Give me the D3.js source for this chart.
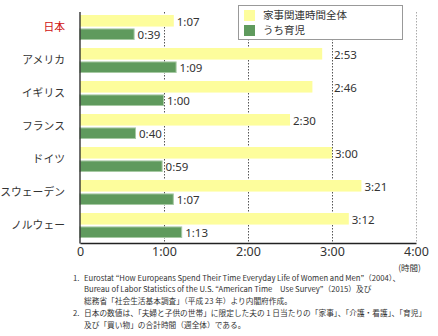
<!DOCTYPE html>
<html><head><meta charset="utf-8">
<script src="https://cdn.jsdelivr.net/npm/d3@7"></script>
<style>
html,body{margin:0;padding:0;background:#fff;}
svg{display:block;font-family:"Noto Sans","Noto Sans CJK JP",sans-serif;}
</style></head>
<body>
<svg id="c" width="438" height="336"></svg>
<script>
const countries = ["日本","アメリカ","イギリス","フランス","ドイツ","スウェーデン","ノルウェー"];
const totalMinutes = [67,173,166,150,180,201,192];
const childMinutes = [39,69,60,40,59,67,73];
const seriesNames = ["家事関連時間全体","うち育児"];
const tickValues = [0,60,120,180,240];
const tickLabels = ["0","1:00","2:00","3:00","4:00"];
const unitLabel = "(時間)";
const notes = [
  ["1.", "Eurostat \u201CHow Europeans Spend Their Time Everyday Life of Women and Men\u201D（2004）、"],
  ["",   "Bureau of Labor Statistics of the U.S. \u201CAmerican Time　Use Survey\u201D（2015）及び"],
  ["",   "総務省「社会生活基本調査」（平成 23 年）より内閣府作成。"],
  ["2.", "日本の数値は、「夫婦と子供の世帯」に限定した夫の 1 日当たりの「家事」、「介護・看護」、「育児」"],
  ["",   "及び「買い物」の合計時間（週全体）である。"]
];

const fmt = m => Math.floor(m/60) + ":" + String(m%60).padStart(2,"0");
const svg = d3.select("#c");
const x = d3.scaleLinear().domain([0,240]).range([80,416]);
const y = d3.scaleBand().domain(countries).range([12,243]).padding(0);
const ys = d3.scaleBand().domain(["total","child"]).range([3,28]).paddingInner(0.14);
const colors = {total:"#fdfd9c", child:"#5f9a5d"};

// gridlines
svg.append("g").selectAll("line").data(tickValues.slice(1)).join("line")
  .attr("x1",d=>x(d)+0.5).attr("x2",d=>x(d)+0.5)
  .attr("y1",12).attr("y2",243)
  .attr("stroke",(d,i)=> d===240 ? "#aaa" : "#555")
  .attr("stroke-width",1).attr("stroke-dasharray","1.5,1.5");

const rows = countries.map((c,i)=>({c, total:totalMinutes[i], child:childMinutes[i]}));
const g = svg.append("g").selectAll("g").data(rows).join("g")
  .attr("transform",d=>`translate(0,${y(d.c)})`);

g.append("rect").attr("x",x(0)).attr("y",ys("total"))
  .attr("width",d=>x(d.total)-x(0)).attr("height",ys.bandwidth()).attr("fill",colors.total);
g.append("rect").attr("x",x(0)).attr("y",ys("child")+0.5)
  .attr("width",d=>x(d.child)-x(0)-0.5).attr("height",ys.bandwidth()-1)
  .attr("fill",colors.child).attr("stroke","#a6c9a3").attr("stroke-width",1);

// country labels
g.append("text").attr("x",65).attr("y",y.bandwidth()/2-1).attr("dy","0.35em")
  .attr("text-anchor","end").attr("font-size",10.8)
  .attr("font-family","'Noto Sans CJK JP',sans-serif")
  .attr("fill",(d,i)=> i===0 ? "#d01010" : "#333").text(d=>d.c);

// value labels
function placeLabel(sel, key){
  sel.each(function(d){
    const t = d3.select(this);
    let px = x(d[key]) + 3;
    const w = this.getComputedTextLength();
    for (const tv of tickValues.slice(1)) {
      const gx = x(tv);
      if (px < gx - 2 && px + w > gx) px = gx + 2;
    }
    t.attr("x", px);
  });
}
g.append("text").attr("y",ys("total")+ys.bandwidth()/2+1).attr("dy","0.35em")
  .attr("font-size",11.5).attr("fill","#333").text(d=>fmt(d.total)).call(placeLabel,"total");
g.append("text").attr("y",ys("child")+ys.bandwidth()/2+1).attr("dy","0.35em")
  .attr("font-size",11.5).attr("fill","#333").text(d=>fmt(d.child)).call(placeLabel,"child");

// axes
const xAxis = d3.axisBottom(x).tickValues(tickValues).tickFormat((d,i)=>tickLabels[i]).tickSize(0).tickPadding(4);
const ax = svg.append("g").attr("transform","translate(0,243)").call(xAxis);
ax.select(".domain").attr("stroke","#222").attr("stroke-width",1.3);
ax.selectAll("text").attr("font-size",12.5).attr("fill","#333").attr("font-family","'Noto Sans',sans-serif");
svg.append("line").attr("x1",80).attr("x2",80).attr("y1",12).attr("y2",243.5)
  .attr("stroke","#222").attr("stroke-width",1.3);

svg.append("text").attr("x",421).attr("y",268).attr("dy","0.35em").attr("text-anchor","end")
  .attr("font-size",8.5).attr("fill","#333").attr("font-family","'Noto Sans CJK JP',sans-serif").text(unitLabel);

// legend
const lg = svg.append("g");
lg.append("rect").attr("x",238.5).attr("y",5.5).attr("width",164).attr("height",34)
  .attr("fill","#fff").attr("stroke","#999");
seriesNames.forEach((n,i)=>{
  lg.append("rect").attr("x",244).attr("y",10+i*15).attr("width",11).attr("height",11)
    .attr("fill", i===0?colors.total:colors.child);
  lg.append("text").attr("x",263).attr("y",15.5+i*15).attr("dy","0.35em")
    .attr("font-size",10.5).attr("fill","#333")
    .attr("font-family","'Noto Sans CJK JP',sans-serif").text(n);
});

// footnotes
const nt = svg.append("g").attr("font-family","'Noto Sans CJK JP',sans-serif").attr("font-size",7.7).attr("fill","#333");
const noteY = [278,289.5,301,313,325];
notes.forEach((n,i)=>{
  if (n[0]) nt.append("text").attr("x",73).attr("y",noteY[i]).attr("dy","0.35em").text(n[0]);
  nt.append("text").attr("x",84).attr("y",noteY[i]).attr("dy","0.35em").text(n[1]);
});
</script>
</body></html>
